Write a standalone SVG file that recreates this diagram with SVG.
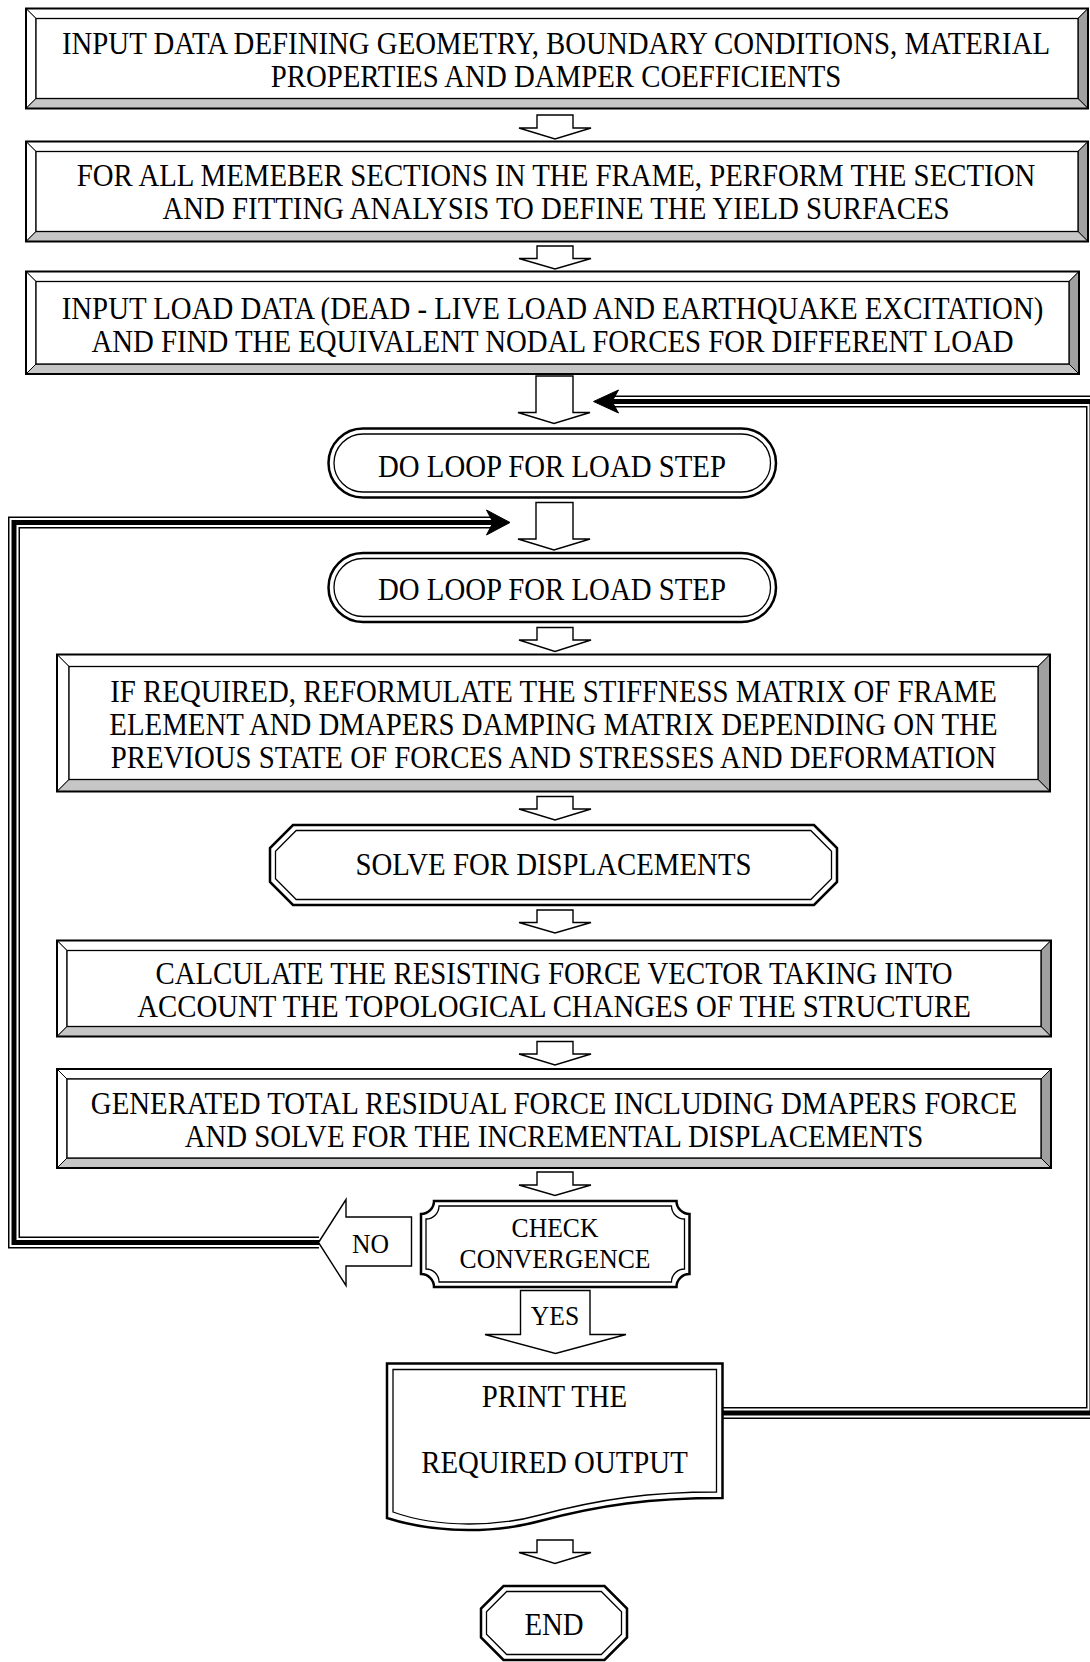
<svg xmlns="http://www.w3.org/2000/svg" width="1090" height="1662" viewBox="0 0 1090 1662">
<style>
.bg{fill:#ffffff}
.face{stroke:#000;stroke-width:1;stroke-linejoin:miter}
.ft{fill:#ffffff}.fl{fill:#ffffff}.fr{fill:#a0a0a0}.fb{fill:#c6c6c6}
.outer{fill:none;stroke:#000;stroke-width:2}
.inner{fill:#ffffff;stroke:#000;stroke-width:1.3}
.dbo{fill:#ffffff;stroke:#000;stroke-width:2.5}
.dbi{fill:none;stroke:#000;stroke-width:1.3}
.blk{fill:#ffffff;stroke:#000;stroke-width:1.4;stroke-linejoin:miter}
.t{font-family:"Liberation Serif","Times New Roman",serif;font-size:31px;fill:#000;text-anchor:middle}
.tl{font-family:"Liberation Serif","Times New Roman",serif;font-size:27px;fill:#000;text-anchor:middle}
.c1{fill:none;stroke:#000;stroke-width:12;stroke-linejoin:miter}
.c2{fill:none;stroke:#fff;stroke-width:9;stroke-linejoin:miter}
.c3{fill:none;stroke:#000;stroke-width:5;stroke-linejoin:miter}
.ah{fill:#000;stroke:#000;stroke-width:1}
</style>
<rect class="bg" x="0" y="0" width="1090" height="1662"/>

<g id="connectors">
  <g id="loop-inner">
    <path class="c1" d="M319,1242.5 H14 V522.5 H493"/>
    <path class="c2" d="M319,1242.5 H14 V522.5 H493"/>
    <path class="c3" d="M319,1242.5 H14 V522.5 H493"/>
    <polygon class="ah" points="510,522.5 486.5,510 493,522.5 486.5,535"/>
  </g>
  <g id="loop-outer">
    <path class="c1" d="M722.5,1413 H1092 V401.5 H612"/>
    <path class="c2" d="M722.5,1413 H1092 V401.5 H612"/>
    <path class="c3" d="M722.5,1413 H1092 V401.5 H612"/>
    <polygon class="ah" points="593.5,401.5 618.5,390 612,401.5 618.5,413"/>
  </g>
  <g id="flow-arrows">
    <path class="blk" d="M537,115 H573 V128 H591 L555,139 L519,128 H537 Z"/>
    <path class="blk" d="M537,246 H573 V258.5 H591 L555,269 L519,258.5 H537 Z"/>
    <path class="blk" d="M536,376 H573 V412.5 H590 L554,423.5 L518,412.5 H536 Z"/>
    <path class="blk" d="M536,502.5 H573 V539 H590 L554,550 L518,539 H536 Z"/>
    <path class="blk" d="M537,627.5 H573 V640 H591 L555,651.5 L519,640 H537 Z"/>
    <path class="blk" d="M537,796.5 H573 V809 H591 L555,820 L519,809 H537 Z"/>
    <path class="blk" d="M537,910 H573 V922.5 H591 L555,933 L519,922.5 H537 Z"/>
    <path class="blk" d="M537,1041.5 H573 V1054 H591 L555,1065 L519,1054 H537 Z"/>
    <path class="blk" d="M537,1172 H573 V1185 H591 L555,1195.5 L519,1185 H537 Z"/>
    <path class="blk" d="M537,1540 H573 V1552.5 H591 L555,1563.5 L519,1552.5 H537 Z"/>
  </g>
  <g id="no-arrow">
    <path class="blk" d="M318.5,1242.5 L346,1199.5 V1217 H411.5 V1266 H346 V1285.5 Z"/>
    <text class="tl" transform="translate(370.5 1253) scale(0.95 1)">NO</text>
  </g>
  <g id="yes-arrow">
    <path class="blk" d="M520.5,1290.5 H590 V1334.5 H626 L555.5,1353.5 L485,1334.5 H520.5 Z"/>
    <text class="tl" transform="translate(555 1325) scale(0.95 1)">YES</text>
  </g>
</g>

<g id="node-input-data">
  <rect x="26" y="8.5" width="1062" height="100" fill="#fff"/>
  <polygon class="face ft" points="26,8.5 1088,8.5 1078,18.5 36,18.5"/>
  <polygon class="face fl" points="26,8.5 36,18.5 36,98.5 26,108.5"/>
  <polygon class="face fr" points="1088,8.5 1088,108.5 1078,98.5 1078,18.5"/>
  <polygon class="face fb" points="26,108.5 36,98.5 1078,98.5 1088,108.5"/>
  <rect class="inner" x="36" y="18.5" width="1042" height="80"/>
  <rect class="outer" x="26" y="8.5" width="1062" height="100"/>
  <text class="t" transform="translate(556 54) scale(0.93 1)">INPUT DATA DEFINING GEOMETRY, BOUNDARY CONDITIONS, MATERIAL</text>
  <text class="t" transform="translate(556 87) scale(0.93 1)">PROPERTIES AND DAMPER COEFFICIENTS</text>
</g>

<g id="node-sections">
  <rect x="26" y="141.5" width="1062" height="100" fill="#fff"/>
  <polygon class="face ft" points="26,141.5 1088,141.5 1078,151.5 36,151.5"/>
  <polygon class="face fl" points="26,141.5 36,151.5 36,231.5 26,241.5"/>
  <polygon class="face fr" points="1088,141.5 1088,241.5 1078,231.5 1078,151.5"/>
  <polygon class="face fb" points="26,241.5 36,231.5 1078,231.5 1088,241.5"/>
  <rect class="inner" x="36" y="151.5" width="1042" height="80"/>
  <rect class="outer" x="26" y="141.5" width="1062" height="100"/>
  <text class="t" transform="translate(556 185.5) scale(0.93 1)">FOR ALL MEMEBER SECTIONS IN THE FRAME, PERFORM THE SECTION</text>
  <text class="t" transform="translate(556 218.5) scale(0.93 1)">AND FITTING ANALYSIS TO DEFINE THE YIELD SURFACES</text>
</g>

<g id="node-load-data">
  <rect x="26" y="271.5" width="1053" height="102.5" fill="#fff"/>
  <polygon class="face ft" points="26,271.5 1079,271.5 1069,281.5 36,281.5"/>
  <polygon class="face fl" points="26,271.5 36,281.5 36,364 26,374"/>
  <polygon class="face fr" points="1079,271.5 1079,374 1069,364 1069,281.5"/>
  <polygon class="face fb" points="26,374 36,364 1069,364 1079,374"/>
  <rect class="inner" x="36" y="281.5" width="1033" height="82.5"/>
  <rect class="outer" x="26" y="271.5" width="1053" height="102.5"/>
  <text class="t" transform="translate(552.5 318.5) scale(0.93 1)">INPUT LOAD DATA (DEAD - LIVE LOAD AND EARTHQUAKE EXCITATION)</text>
  <text class="t" transform="translate(552.5 351.5) scale(0.93 1)">AND FIND THE EQUIVALENT NODAL FORCES FOR DIFFERENT LOAD</text>
</g>

<g id="node-do-loop-1">
  <rect class="dbo" x="328.5" y="428.5" width="447.5" height="69" rx="34.5"/>
  <rect class="dbi" x="334" y="434" width="436.5" height="58" rx="29"/>
  <text class="t" transform="translate(552 477) scale(0.93 1)">DO LOOP FOR LOAD STEP</text>
</g>

<g id="node-do-loop-2">
  <rect class="dbo" x="328.5" y="553" width="447.5" height="69" rx="34.5"/>
  <rect class="dbi" x="334" y="558.5" width="436.5" height="58" rx="29"/>
  <text class="t" transform="translate(552 600) scale(0.93 1)">DO LOOP FOR LOAD STEP</text>
</g>

<g id="node-reformulate">
  <rect x="57" y="654.5" width="993" height="137" fill="#fff"/>
  <polygon class="face ft" points="57,654.5 1050,654.5 1038,666.5 69,666.5"/>
  <polygon class="face fl" points="57,654.5 69,666.5 69,779.5 57,791.5"/>
  <polygon class="face fr" points="1050,654.5 1050,791.5 1038,779.5 1038,666.5"/>
  <polygon class="face fb" points="57,791.5 69,779.5 1038,779.5 1050,791.5"/>
  <rect class="inner" x="69" y="666.5" width="969" height="113"/>
  <rect class="outer" x="57" y="654.5" width="993" height="137"/>
  <text class="t" transform="translate(553.5 701.5) scale(0.93 1)">IF REQUIRED, REFORMULATE THE STIFFNESS MATRIX OF FRAME</text>
  <text class="t" transform="translate(553.5 734.5) scale(0.93 1)">ELEMENT AND DMAPERS DAMPING MATRIX DEPENDING ON THE</text>
  <text class="t" transform="translate(553.5 767.5) scale(0.93 1)">PREVIOUS STATE OF FORCES AND STRESSES AND DEFORMATION</text>
</g>

<g id="node-solve">
  <polygon class="dbo" points="293,825 814,825 837,848 837,882 814,905 293,905 270,882 270,848"/>
  <polygon class="dbi" points="296.2,830.5 810.8,830.5 831.5,851.2 831.5,878.8 810.8,899.5 296.2,899.5 275.5,878.8 275.5,851.2"/>
  <text class="t" transform="translate(553.5 875) scale(0.93 1)">SOLVE FOR DISPLACEMENTS</text>
</g>

<g id="node-resisting">
  <rect x="57" y="940.5" width="994" height="96" fill="#fff"/>
  <polygon class="face ft" points="57,940.5 1051,940.5 1041,950.5 67,950.5"/>
  <polygon class="face fl" points="57,940.5 67,950.5 67,1026.5 57,1036.5"/>
  <polygon class="face fr" points="1051,940.5 1051,1036.5 1041,1026.5 1041,950.5"/>
  <polygon class="face fb" points="57,1036.5 67,1026.5 1041,1026.5 1051,1036.5"/>
  <rect class="inner" x="67" y="950.5" width="974" height="76"/>
  <rect class="outer" x="57" y="940.5" width="994" height="96"/>
  <text class="t" transform="translate(554 983.5) scale(0.93 1)">CALCULATE THE RESISTING FORCE VECTOR TAKING INTO</text>
  <text class="t" transform="translate(554 1016.5) scale(0.93 1)">ACCOUNT THE TOPOLOGICAL CHANGES OF THE STRUCTURE</text>
</g>

<g id="node-residual">
  <rect x="57" y="1069" width="994" height="99" fill="#fff"/>
  <polygon class="face ft" points="57,1069 1051,1069 1041,1079 67,1079"/>
  <polygon class="face fl" points="57,1069 67,1079 67,1158 57,1168"/>
  <polygon class="face fr" points="1051,1069 1051,1168 1041,1158 1041,1079"/>
  <polygon class="face fb" points="57,1168 67,1158 1041,1158 1051,1168"/>
  <rect class="inner" x="67" y="1079" width="974" height="79"/>
  <rect class="outer" x="57" y="1069" width="994" height="99"/>
  <text class="t" transform="translate(554 1114) scale(0.93 1)">GENERATED TOTAL RESIDUAL FORCE INCLUDING DMAPERS FORCE</text>
  <text class="t" transform="translate(554 1147) scale(0.93 1)">AND SOLVE FOR THE INCREMENTAL DISPLACEMENTS</text>
</g>

<g id="node-check">
  <path class="dbo" d="M434,1201 H676.5 A13,13 0 0 0 689.5,1214 V1274 A13,13 0 0 0 676.5,1287 H434 A13,13 0 0 0 421,1274 V1214 A13,13 0 0 0 434,1201 Z"/>
  <path class="dbi" d="M439,1206 H671.5 A13,13 0 0 0 684.5,1219 V1269 A13,13 0 0 0 671.5,1282 H439 A13,13 0 0 0 426,1269 V1219 A13,13 0 0 0 439,1206 Z"/>
  <text class="tl" transform="translate(555 1236.5) scale(0.95 1)">CHECK</text>
  <text class="tl" transform="translate(555 1267.5) scale(0.95 1)">CONVERGENCE</text>
</g>

<g id="node-print">
  <path class="dbo" d="M387,1363.5 H722.5 V1498 C650,1498 600,1505 540,1521 C500,1532 440,1535 387,1518 Z"/>
  <path class="dbi" d="M393,1369.5 H716.5 V1492 C650,1492 600,1499 540,1515 C500,1526 440,1529 393,1512 Z"/>
  <text class="t" transform="translate(554.5 1407) scale(0.93 1)">PRINT THE</text>
  <text class="t" transform="translate(554.5 1472.5) scale(0.93 1)">REQUIRED OUTPUT</text>
</g>

<g id="node-end">
  <polygon class="dbo" points="503.5,1586 604.5,1586 627,1608.5 627,1637.5 604.5,1660 503.5,1660 481,1637.5 481,1608.5"/>
  <polygon class="dbi" points="506.7,1591.5 601.3,1591.5 621.5,1611.7 621.5,1634.3 601.3,1654.5 506.7,1654.5 486.5,1634.3 486.5,1611.7"/>
  <text class="t" transform="translate(554 1635) scale(0.93 1)">END</text>
</g>
</svg>
